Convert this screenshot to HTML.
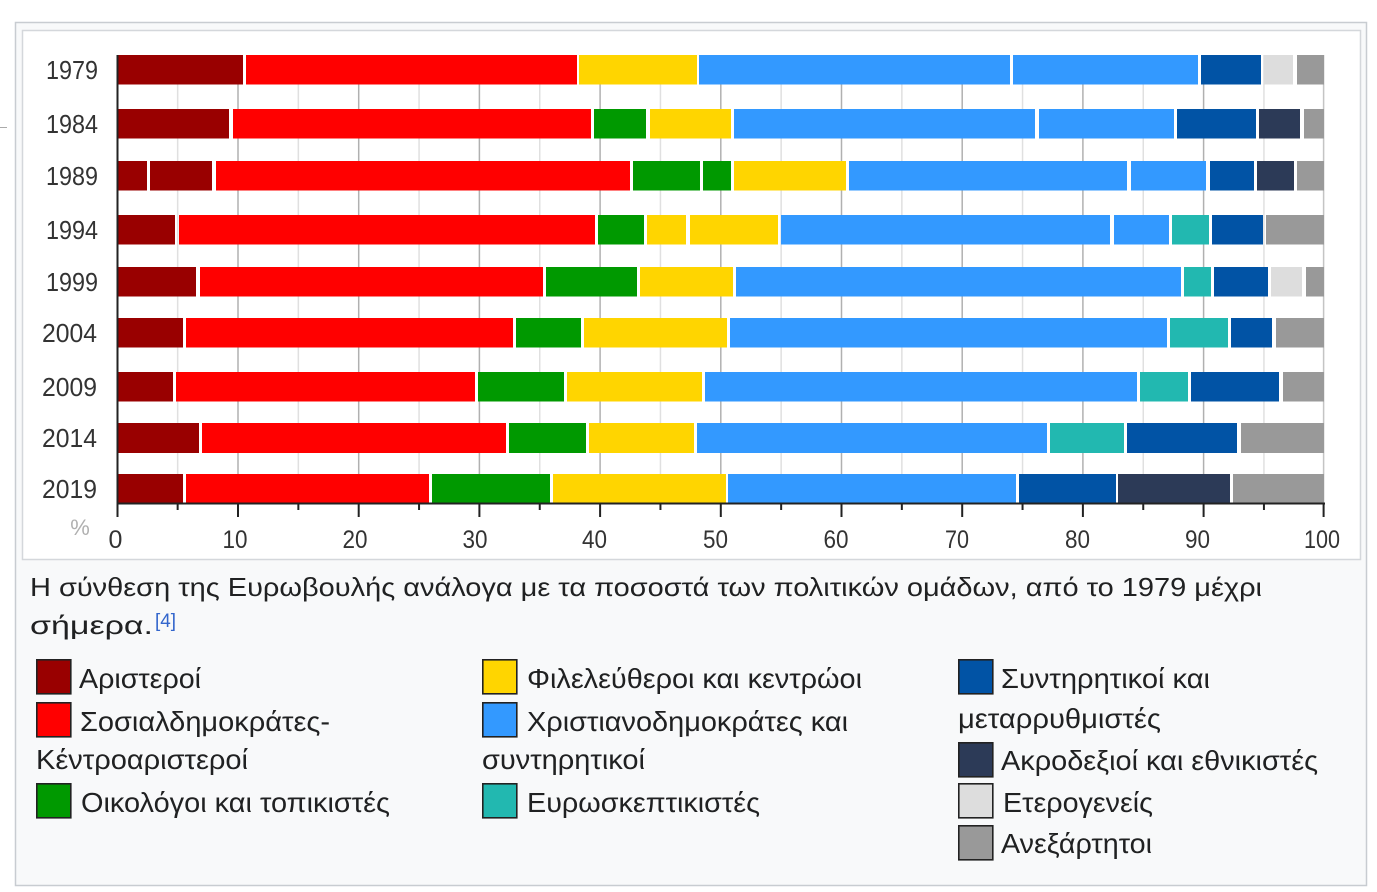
<!DOCTYPE html>
<html><head><meta charset="utf-8"><style>
html,body{margin:0;padding:0;background:#fff;}
svg{display:block;}
text{font-family:"Liberation Sans",Arial,sans-serif;}
</style></head><body>
<svg width="1377" height="892" viewBox="0 0 1377 892" xmlns="http://www.w3.org/2000/svg">
<line x1="0" y1="127.5" x2="7" y2="127.5" stroke="#aaa" stroke-width="1"/>
<rect x="15.5" y="22.5" width="1351" height="863" fill="#f8f9fa" stroke="#c8ccd1" stroke-width="1.5"/>
<rect x="22.5" y="30.5" width="1338" height="529" fill="#ffffff" stroke="#d4d7db" stroke-width="1.5"/>

<!-- gridlines -->
<g stroke-width="1.5">
<line x1="177.65" y1="55" x2="177.65" y2="503" stroke="#e0e0e0"/>
<line x1="238" y1="55" x2="238" y2="503" stroke="#b0b0b0"/>
<line x1="298.35" y1="55" x2="298.35" y2="503" stroke="#e0e0e0"/>
<line x1="358.7" y1="55" x2="358.7" y2="503" stroke="#b0b0b0"/>
<line x1="419.05" y1="55" x2="419.05" y2="503" stroke="#e0e0e0"/>
<line x1="479.4" y1="55" x2="479.4" y2="503" stroke="#b0b0b0"/>
<line x1="539.75" y1="55" x2="539.75" y2="503" stroke="#e0e0e0"/>
<line x1="600.1" y1="55" x2="600.1" y2="503" stroke="#b0b0b0"/>
<line x1="660.45" y1="55" x2="660.45" y2="503" stroke="#e0e0e0"/>
<line x1="720.8" y1="55" x2="720.8" y2="503" stroke="#b0b0b0"/>
<line x1="781.15" y1="55" x2="781.15" y2="503" stroke="#e0e0e0"/>
<line x1="841.5" y1="55" x2="841.5" y2="503" stroke="#b0b0b0"/>
<line x1="901.85" y1="55" x2="901.85" y2="503" stroke="#e0e0e0"/>
<line x1="962.2" y1="55" x2="962.2" y2="503" stroke="#b0b0b0"/>
<line x1="1022.55" y1="55" x2="1022.55" y2="503" stroke="#e0e0e0"/>
<line x1="1082.9" y1="55" x2="1082.9" y2="503" stroke="#b0b0b0"/>
<line x1="1143.25" y1="55" x2="1143.25" y2="503" stroke="#e0e0e0"/>
<line x1="1203.6" y1="55" x2="1203.6" y2="503" stroke="#b0b0b0"/>
<line x1="1263.95" y1="55" x2="1263.95" y2="503" stroke="#e0e0e0"/>
<line x1="1323.6" y1="55" x2="1323.6" y2="503" stroke="#c4c4c4"/>
</g>

<!-- bars -->
<g>
<rect x="117" y="55" width="126" height="29.5" fill="#990000"/>
<rect x="246" y="55" width="331" height="29.5" fill="#ff0000"/>
<rect x="579" y="55" width="118" height="29.5" fill="#ffd500"/>
<rect x="699" y="55" width="311" height="29.5" fill="#3399ff"/>
<rect x="1013" y="55" width="185" height="29.5" fill="#3399ff"/>
<rect x="1201" y="55" width="60" height="29.5" fill="#0153a5"/>
<rect x="1264" y="55" width="29" height="29.5" fill="#dddddd"/>
<rect x="1297" y="55" width="27" height="29.5" fill="#999999"/>
</g>
<g>
<rect x="117" y="109" width="112" height="29.5" fill="#990000"/>
<rect x="233" y="109" width="358" height="29.5" fill="#ff0000"/>
<rect x="594" y="109" width="52" height="29.5" fill="#009900"/>
<rect x="650" y="109" width="81" height="29.5" fill="#ffd500"/>
<rect x="734" y="109" width="301" height="29.5" fill="#3399ff"/>
<rect x="1039" y="109" width="135" height="29.5" fill="#3399ff"/>
<rect x="1177" y="109" width="79" height="29.5" fill="#0153a5"/>
<rect x="1259" y="109" width="41" height="29.5" fill="#2c3a57"/>
<rect x="1304" y="109" width="20" height="29.5" fill="#999999"/>
</g>
<g>
<rect x="117" y="161" width="30" height="29.5" fill="#990000"/>
<rect x="150" y="161" width="62" height="29.5" fill="#990000"/>
<rect x="216" y="161" width="414" height="29.5" fill="#ff0000"/>
<rect x="633" y="161" width="67" height="29.5" fill="#009900"/>
<rect x="703" y="161" width="28" height="29.5" fill="#009900"/>
<rect x="734" y="161" width="112" height="29.5" fill="#ffd500"/>
<rect x="849" y="161" width="278" height="29.5" fill="#3399ff"/>
<rect x="1131" y="161" width="75" height="29.5" fill="#3399ff"/>
<rect x="1210" y="161" width="44" height="29.5" fill="#0153a5"/>
<rect x="1257" y="161" width="37" height="29.5" fill="#2c3a57"/>
<rect x="1297" y="161" width="27" height="29.5" fill="#999999"/>
</g>
<g>
<rect x="117" y="215" width="58" height="29.5" fill="#990000"/>
<rect x="179" y="215" width="416" height="29.5" fill="#ff0000"/>
<rect x="598" y="215" width="46" height="29.5" fill="#009900"/>
<rect x="647" y="215" width="39" height="29.5" fill="#ffd500"/>
<rect x="690" y="215" width="88" height="29.5" fill="#ffd500"/>
<rect x="781" y="215" width="329" height="29.5" fill="#3399ff"/>
<rect x="1114" y="215" width="55" height="29.5" fill="#3399ff"/>
<rect x="1172" y="215" width="37" height="29.5" fill="#22b8b0"/>
<rect x="1212" y="215" width="51" height="29.5" fill="#0153a5"/>
<rect x="1266" y="215" width="58" height="29.5" fill="#999999"/>
</g>
<g>
<rect x="117" y="267" width="79" height="29.5" fill="#990000"/>
<rect x="200" y="267" width="343" height="29.5" fill="#ff0000"/>
<rect x="546" y="267" width="91" height="29.5" fill="#009900"/>
<rect x="640" y="267" width="93" height="29.5" fill="#ffd500"/>
<rect x="736" y="267" width="445" height="29.5" fill="#3399ff"/>
<rect x="1184" y="267" width="27" height="29.5" fill="#22b8b0"/>
<rect x="1214" y="267" width="54" height="29.5" fill="#0153a5"/>
<rect x="1271" y="267" width="31" height="29.5" fill="#dddddd"/>
<rect x="1306" y="267" width="18" height="29.5" fill="#999999"/>
</g>
<g>
<rect x="117" y="318" width="66" height="29.5" fill="#990000"/>
<rect x="186" y="318" width="327" height="29.5" fill="#ff0000"/>
<rect x="516" y="318" width="65" height="29.5" fill="#009900"/>
<rect x="584" y="318" width="143" height="29.5" fill="#ffd500"/>
<rect x="730" y="318" width="437" height="29.5" fill="#3399ff"/>
<rect x="1170" y="318" width="58" height="29.5" fill="#22b8b0"/>
<rect x="1231" y="318" width="41" height="29.5" fill="#0153a5"/>
<rect x="1276" y="318" width="48" height="29.5" fill="#999999"/>
</g>
<g>
<rect x="117" y="372" width="56" height="29.5" fill="#990000"/>
<rect x="176" y="372" width="299" height="29.5" fill="#ff0000"/>
<rect x="478" y="372" width="86" height="29.5" fill="#009900"/>
<rect x="567" y="372" width="135" height="29.5" fill="#ffd500"/>
<rect x="705" y="372" width="432" height="29.5" fill="#3399ff"/>
<rect x="1140" y="372" width="48" height="29.5" fill="#22b8b0"/>
<rect x="1191" y="372" width="88" height="29.5" fill="#0153a5"/>
<rect x="1283" y="372" width="41" height="29.5" fill="#999999"/>
</g>
<g>
<rect x="117" y="423" width="82" height="30" fill="#990000"/>
<rect x="202" y="423" width="304" height="30" fill="#ff0000"/>
<rect x="509" y="423" width="77" height="30" fill="#009900"/>
<rect x="589" y="423" width="105" height="30" fill="#ffd500"/>
<rect x="697" y="423" width="350" height="30" fill="#3399ff"/>
<rect x="1050" y="423" width="74" height="30" fill="#22b8b0"/>
<rect x="1127" y="423" width="110" height="30" fill="#0153a5"/>
<rect x="1241" y="423" width="83" height="30" fill="#999999"/>
</g>
<g>
<rect x="117" y="474" width="66" height="29" fill="#990000"/>
<rect x="186" y="474" width="243" height="29" fill="#ff0000"/>
<rect x="432" y="474" width="118" height="29" fill="#009900"/>
<rect x="553" y="474" width="173" height="29" fill="#ffd500"/>
<rect x="728" y="474" width="288" height="29" fill="#3399ff"/>
<rect x="1019" y="474" width="97" height="29" fill="#0153a5"/>
<rect x="1118" y="474" width="112" height="29" fill="#2c3a57"/>
<rect x="1233" y="474" width="91" height="29" fill="#999999"/>
</g>

<!-- axes -->
<line x1="117.5" y1="55" x2="117.5" y2="517" stroke="#222" stroke-width="2"/>
<line x1="117" y1="503.5" x2="1325" y2="503.5" stroke="#222" stroke-width="2"/>
<g stroke="#222" stroke-width="2">
<line x1="177.65" y1="503" x2="177.65" y2="510"/>
<line x1="238" y1="503" x2="238" y2="517"/>
<line x1="298.35" y1="503" x2="298.35" y2="510"/>
<line x1="358.7" y1="503" x2="358.7" y2="517"/>
<line x1="419.05" y1="503" x2="419.05" y2="510"/>
<line x1="479.4" y1="503" x2="479.4" y2="517"/>
<line x1="539.75" y1="503" x2="539.75" y2="510"/>
<line x1="600.1" y1="503" x2="600.1" y2="517"/>
<line x1="660.45" y1="503" x2="660.45" y2="510"/>
<line x1="720.8" y1="503" x2="720.8" y2="517"/>
<line x1="781.15" y1="503" x2="781.15" y2="510"/>
<line x1="841.5" y1="503" x2="841.5" y2="517"/>
<line x1="901.85" y1="503" x2="901.85" y2="510"/>
<line x1="962.2" y1="503" x2="962.2" y2="517"/>
<line x1="1022.55" y1="503" x2="1022.55" y2="510"/>
<line x1="1082.9" y1="503" x2="1082.9" y2="517"/>
<line x1="1143.25" y1="503" x2="1143.25" y2="510"/>
<line x1="1203.6" y1="503" x2="1203.6" y2="517"/>
<line x1="1263.95" y1="503" x2="1263.95" y2="510"/>
<line x1="1323.6" y1="503" x2="1323.6" y2="517"/>
</g>

<!-- year labels -->
<g font-size="26" fill="#333" text-anchor="end">
<text x="98" y="79" textLength="52" lengthAdjust="spacingAndGlyphs">1979</text>
<text x="98" y="133" textLength="52" lengthAdjust="spacingAndGlyphs">1984</text>
<text x="98" y="185" textLength="52" lengthAdjust="spacingAndGlyphs">1989</text>
<text x="98" y="239" textLength="52" lengthAdjust="spacingAndGlyphs">1994</text>
<text x="98" y="291" textLength="52" lengthAdjust="spacingAndGlyphs">1999</text>
<text x="97" y="342" textLength="55" lengthAdjust="spacingAndGlyphs">2004</text>
<text x="97" y="396" textLength="55" lengthAdjust="spacingAndGlyphs">2009</text>
<text x="97" y="447" textLength="55" lengthAdjust="spacingAndGlyphs">2014</text>
<text x="97" y="498" textLength="55" lengthAdjust="spacingAndGlyphs">2019</text>
</g>

<!-- tick labels -->
<text x="80" y="535" font-size="22" fill="#b0b0b0" text-anchor="middle">%</text>
<g font-size="25" fill="#333" text-anchor="middle">
<text x="115.5" y="548">0</text>
<text x="235" y="548" textLength="25" lengthAdjust="spacingAndGlyphs">10</text>
<text x="355" y="548" textLength="25" lengthAdjust="spacingAndGlyphs">20</text>
<text x="475" y="548" textLength="25" lengthAdjust="spacingAndGlyphs">30</text>
<text x="594.5" y="548" textLength="25" lengthAdjust="spacingAndGlyphs">40</text>
<text x="715.5" y="548" textLength="25" lengthAdjust="spacingAndGlyphs">50</text>
<text x="836" y="548" textLength="25" lengthAdjust="spacingAndGlyphs">60</text>
<text x="957" y="548" textLength="24" lengthAdjust="spacingAndGlyphs">70</text>
<text x="1077.5" y="548" textLength="25" lengthAdjust="spacingAndGlyphs">80</text>
<text x="1197.5" y="548" textLength="25" lengthAdjust="spacingAndGlyphs">90</text>
<text x="1322" y="548" textLength="36" lengthAdjust="spacingAndGlyphs">100</text>
</g>

<!-- caption -->
<g font-size="26" fill="#202122">
<text x="30" y="596" textLength="1232" lengthAdjust="spacingAndGlyphs">Η σύνθεση της Ευρωβουλής ανάλογα με τα ποσοστά των πολιτικών ομάδων, από το 1979 μέχρι</text>
<text x="30" y="634" textLength="123" lengthAdjust="spacingAndGlyphs">σήμερα.</text>
</g>
<text x="155" y="627" font-size="19" fill="#3366cc" textLength="21" lengthAdjust="spacingAndGlyphs">[4]</text>

<!-- legend squares -->
<g stroke="#222" stroke-width="1.6">
<rect x="36.8" y="659.8" width="34" height="34" fill="#990000"/>
<rect x="36.8" y="702.8" width="34" height="34" fill="#ff0000"/>
<rect x="36.8" y="783.8" width="34" height="34" fill="#009900"/>
<rect x="482.8" y="659.8" width="34" height="34" fill="#ffd500"/>
<rect x="482.8" y="702.8" width="34" height="34" fill="#3399ff"/>
<rect x="482.8" y="783.8" width="34" height="34" fill="#22b8b0"/>
<rect x="958.8" y="659.8" width="34" height="34" fill="#0153a5"/>
<rect x="958.8" y="742.8" width="34" height="34" fill="#2c3a57"/>
<rect x="958.8" y="783.8" width="34" height="34" fill="#dddddd"/>
<rect x="958.8" y="825.8" width="34" height="34" fill="#999999"/>
</g>

<!-- legend text -->
<g font-size="28" fill="#202122">
<text x="79" y="688" textLength="122" lengthAdjust="spacingAndGlyphs">Αριστεροί</text>
<text x="80" y="731" textLength="250" lengthAdjust="spacingAndGlyphs">Σοσιαλδημοκράτες-</text>
<text x="36" y="769" textLength="212" lengthAdjust="spacingAndGlyphs">Κέντροαριστεροί</text>
<text x="81" y="812" textLength="309" lengthAdjust="spacingAndGlyphs">Οικολόγοι και τοπικιστές</text>

<text x="527" y="688" textLength="335" lengthAdjust="spacingAndGlyphs">Φιλελεύθεροι και κεντρώοι</text>
<text x="527" y="731" textLength="321" lengthAdjust="spacingAndGlyphs">Χριστιανοδημοκράτες και</text>
<text x="482" y="769" textLength="163" lengthAdjust="spacingAndGlyphs">συντηρητικοί</text>
<text x="527" y="812" textLength="233" lengthAdjust="spacingAndGlyphs">Ευρωσκεπτικιστές</text>

<text x="1001" y="688" textLength="209" lengthAdjust="spacingAndGlyphs">Συντηρητικοί και</text>
<text x="958" y="728" textLength="203" lengthAdjust="spacingAndGlyphs">μεταρρυθμιστές</text>
<text x="1001" y="770" textLength="317" lengthAdjust="spacingAndGlyphs">Ακροδεξιοί και εθνικιστές</text>
<text x="1003" y="812" textLength="150" lengthAdjust="spacingAndGlyphs">Ετερογενείς</text>
<text x="1001" y="853" textLength="151" lengthAdjust="spacingAndGlyphs">Ανεξάρτητοι</text>
</g>
</svg>
</body></html>
